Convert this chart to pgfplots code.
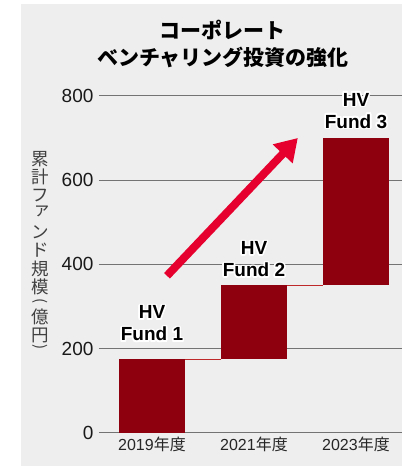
\documentclass[border=0pt]{standalone}
\usepackage{pgfplots}
\pgfplotsset{compat=1.18}
\usepackage{graphicx}
\usepackage{fontspec}
\setmainfont{Liberation Sans}
\newfontfamily\jp{Noto Sans CJK JP}
\usepackage{contour}
\contourlength{1.6bp}
\usetikzlibrary{arrows.meta}
\definecolor{barred}{RGB}{143,0,14}
\definecolor{arrowred}{RGB}{229,0,45}
\definecolor{bg}{RGB}{238,238,238}
\definecolor{connred}{RGB}{190,40,40}
\pgfdeclarelayer{background}
\pgfsetlayers{background,main}
\tikzset{vl/.style={inner sep=0pt, text=black!75, font=\jp\fontsize{17.5bp}{18bp}\selectfont}}
\newcommand\vparen[1]{\rotatebox[origin=c]{-90}{\fontsize{15bp}{15bp}\selectfont #1}}
\begin{document}
\begin{tikzpicture}
\begin{axis}[
  x=102bp, y=0.4215bp,
  xmin=-0.52, xmax=2.451, ymin=0, ymax=800,
  clip=false,
  axis line style={draw=none},
  major tick length=0pt,
  ytick={0,200,400,600,800},
  ymajorgrids, grid style={line width=1bp, color=black!55},
  xtick={0,1,2},
  xticklabels={2019{\jp 年度},2021{\jp 年度},2023{\jp 年度}},
  xticklabel style={font=\fontsize{16bp}{18bp}\selectfont, text=black!85},
  yticklabel style={font=\fontsize{19bp}{21bp}\selectfont, xshift=-2bp, text=black!90},
  /pgf/number format/assume math mode=true,
]
% bars (waterfall: base -> cumulative total)
\addplot[fill=barred, draw=none] coordinates {(-0.3235,0) (0.3235,0) (0.3235,175) (-0.3235,175)} -- cycle;
\addplot[fill=barred, draw=none] coordinates {(0.6765,175) (1.3235,175) (1.3235,350) (0.6765,350)} -- cycle;
\addplot[fill=barred, draw=none] coordinates {(1.6765,350) (2.3235,350) (2.3235,700) (1.6765,700)} -- cycle;
% connectors
\addplot[connred, line width=1bp] coordinates {(0.3235,175) (0.6765,175)};
\addplot[connred, line width=1bp] coordinates {(1.3235,350) (1.6765,350)};
% arrow
\addplot[arrowred, line width=8bp, -{Triangle[length=22bp, width=26bp]}] coordinates {(0.147,373) (1.43,700)};
% labels
\node[align=center, font=\bfseries\fontsize{19bp}{22bp}\selectfont] at (axis cs:0,258) {\contour{white}{HV}\\\contour{white}{Fund 1}};
\node[align=center, font=\bfseries\fontsize{19bp}{22bp}\selectfont] at (axis cs:1,410) {\contour{white}{HV}\\\contour{white}{Fund 2}};
\node[align=center, font=\bfseries\fontsize{19bp}{22bp}\selectfont] at (axis cs:2,763) {\contour{white}{HV}\\\contour{white}{Fund 3}};
% title
\node[align=center, font=\jp\bfseries\fontsize{21bp}{27bp}\selectfont] at (axis cs:0.696,924) {コーポレート\\ベンチャリング投資の強化};
% y label (vertical)
\node[vl] at (axis cs:-1.098,650.1) {累};
\node[vl] at (axis cs:-1.098,606.6) {計};
\node[vl] at (axis cs:-1.098,563.2) {フ};
\node[vl, xshift=2bp, yshift=3bp] at (axis cs:-1.098,519.8) {ァ};
\node[vl] at (axis cs:-1.098,476.4) {ン};
\node[vl] at (axis cs:-1.098,433.0) {ド};
\node[vl] at (axis cs:-1.098,389.6) {規};
\node[vl] at (axis cs:-1.098,346.1) {模};
\node[vl] at (axis cs:-1.098,310.0) {\vparen{(}};
\node[vl] at (axis cs:-1.098,275.2) {億};
\node[vl] at (axis cs:-1.098,232.5) {円};
\node[vl] at (axis cs:-1.098,200.5) {\vparen{)}};
\coordinate (BL) at (axis cs:-1.490,-78.3);
\coordinate (TR) at (axis cs:2.451,1027.3);
\coordinate (GBL) at (axis cs:-1.284,-78.3);
\coordinate (GTR) at (axis cs:2.451,1017.8);
\end{axis}
\begin{pgfonlayer}{background}
\fill[bg] (GBL) rectangle (GTR);
\end{pgfonlayer}
\pgfresetboundingbox
\path[use as bounding box] (BL) rectangle (TR);
\end{tikzpicture}
\end{document}
